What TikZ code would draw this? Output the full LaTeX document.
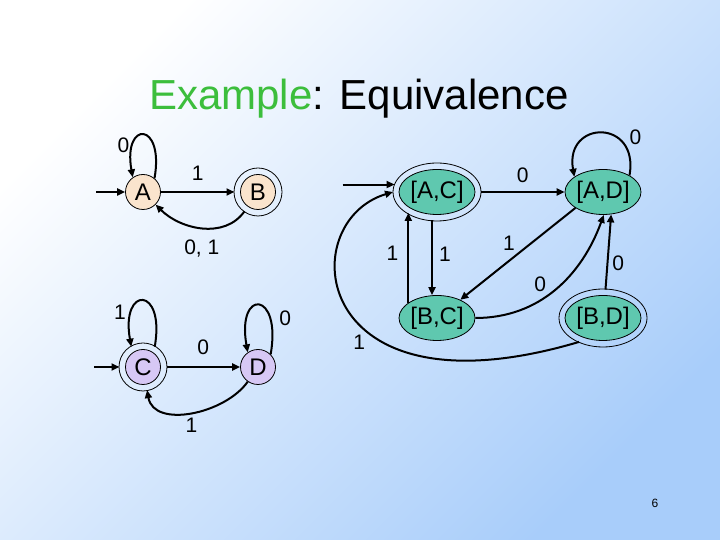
\documentclass[tikz,border=0pt]{standalone}
\usepackage{fontspec}
\setmainfont{Liberation Sans}
\usetikzlibrary{positioning, arrows.meta, shapes.geometric}

\definecolor{bgblue}{RGB}{168,205,250}
\definecolor{titlegreen}{RGB}{60,190,60}
\definecolor{peach}{RGB}{250,228,205}
\definecolor{lilac}{RGB}{215,200,245}
\definecolor{tealfill}{RGB}{95,200,175}

\begin{document}
\begin{tikzpicture}
    [
        x=1pt, y=1pt,
        on grid,
        state/.style={draw, circle, line width=0.8pt, minimum size=35pt, inner sep=0pt, font=\fontsize{24}{24}\selectfont},
        pair/.style={draw, ellipse, line width=0.8pt, fill=tealfill, minimum width=76pt, minimum height=45pt, inner sep=0pt, font=\fontsize{24}{24}\selectfont},
        accept/.style={outer sep=6pt},
        ring/.style={draw, line width=0.8pt},
        arr/.style={-{Triangle[length=8pt, width=7pt]}, line width=2pt},
        lbl/.style={inner sep=2pt, font=\fontsize{21}{21}\selectfont}
    ]
        % =========================================================================
        % BACKGROUND
        % =========================================================================
        \shade [top color=white, bottom color=bgblue, shading angle=45] (0,0) rectangle (720,540);
        \useasboundingbox (0,0) rectangle (720,540);

        \node [anchor=base, font=\fontsize{42}{48}\selectfont] (title) at (359,430)
            {\textcolor{titlegreen}{Example}: Equivalence};
        \node [font=\fontsize{12}{12}\selectfont] (pagenum) at (655,37) {6};

        % =========================================================================
        % NODES
        % =========================================================================
        % --- A / B ---
        \node [state, fill=peach] (A) at (143,348) {A};
        \node [state, fill=peach, accept, right=115pt of A] (B) {B};
        % --- C / D ---
        \node [state, fill=lilac, accept, below=175pt of A] (C) {C};
        \node [state, fill=lilac, right=115pt of C] (D) {D};
        % --- classes ---
        \node [pair, accept] (AC) at (437,348) {[A,C]};
        \node [pair, right=166pt of AC] (AD) {[A,D]};
        \node [pair, below=126pt of AC] (BC) {[B,C]};
        \node [pair, accept, right=166pt of BC] (BD) {[B,D]};

        \coordinate [left=47pt of A] (Ain);
        \coordinate [left=49pt of C] (Cin);
        \coordinate [left=52pt of AC.170] (ACin);

        % accepting rings
        \draw [ring] (B) circle (24pt);
        \draw [ring] (C) circle (24pt);
        \draw [ring] (AC) ellipse [x radius=44pt, y radius=29pt];
        \draw [ring] (BD) ellipse [x radius=44pt, y radius=29pt];

        % =========================================================================
        % PATHS
        % =========================================================================
        % --- A / B ---
        \draw [arr] (Ain) -- (A);
        \draw [arr] (A) -- node [lbl, above=8pt] {1} (B);
        \draw [arr] (A.50) to [out=80, in=100, distance=58pt]
            node [lbl, pos=0.75, left=1pt] {0} (A.125);
        \draw [arr] (B) to [out=235, in=-45] node [lbl, below=9pt] {0, 1} (A);
        % --- C / D ---
        \draw [arr] (Cin) -- (C);
        \draw [arr] (C) -- node [lbl, above=9pt] {0} (D);
        \draw [arr] (C.60) to [out=80, in=100, distance=62pt]
            node [lbl, pos=0.75, left=3pt] {1} (C.120);
        \draw [arr] (D.45) to [out=80, in=100, distance=65pt]
            node [lbl, pos=0.25, right=6pt] {0} (D.125);
        \draw [arr] (D) to [out=235, in=-80] node [lbl, below=2pt] {1} (C);
        % --- classes ---
        \draw [arr] (ACin) -- (AC.170);
        \draw [arr] (AC) -- node [lbl, above=6pt] {0} (AD);
        \draw [arr] (AD.32) to [out=80, in=100, distance=58pt]
            node [lbl, pos=0.2, above right] {0} (AD.152);
        \draw [arr] (AC.260) -- node [lbl, pos=0.45, right=4pt] {1} (AC.260 |- BC.north);
        \draw [arr] (BC.152) -- node [lbl, pos=0.55, left=7pt] {1} (BC.152 |- AC.215);
        \draw [arr] (AD.210) -- node [lbl, above left] {1} (BC.38);
        \draw [arr] (BC.east) to [out=0, in=250] node [lbl, pos=0.45, above left] {0} (AD.272);
        \draw [arr] (BD.85) -- node [lbl, pos=0.35, right=2pt] {0} (AD.290);
        \draw [arr] (BD.225) .. controls +(-270,-80) and +(-100,-30) ..
            node [lbl, pos=0.4, below left] {1} (AC.180);

    \end{tikzpicture}
\end{document}
